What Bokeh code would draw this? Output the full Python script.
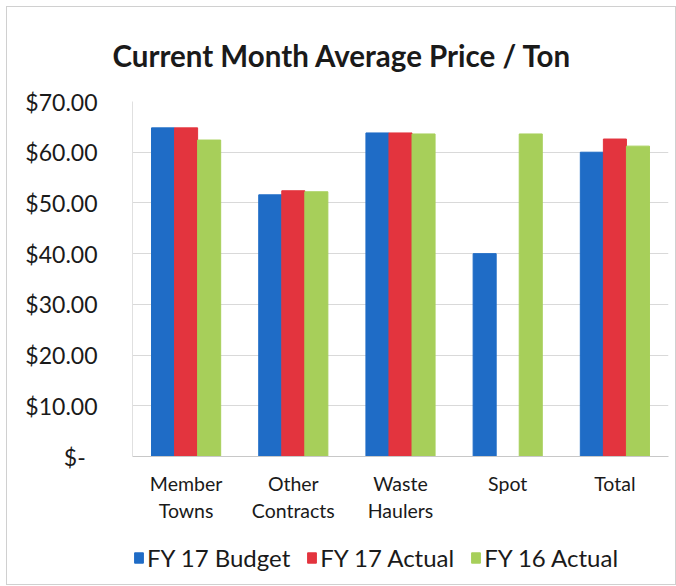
from bokeh.plotting import figure
from bokeh.layouts import column
from bokeh.models import FactorRange, FixedTicker, Legend, LegendItem, Range1d
from bokeh.transform import dodge
from bokeh.models import ColumnDataSource
from bokeh.embed import file_html
from bokeh.resources import INLINE

categories = ["Member\nTowns", "Other\nContracts", "Waste\nHaulers", "Spot", "Total"]
fy17_budget = [64.8, 51.6, 63.8, 40.0, 60.0]
fy17_actual = [64.8, 52.4, 63.8, 0.0, 62.6]
fy16_actual = [62.4, 52.2, 63.6, 63.6, 61.2]
series_names = ["FY 17 Budget", "FY 17 Actual", "FY 16 Actual"]
y_ticks = [0, 10, 20, 30, 40, 50, 60, 70]
y_tick_labels = ["$-\u00a0\u00a0", "$10.00", "$20.00", "$30.00", "$40.00", "$50.00", "$60.00", "$70.00"]

colors = ["#1f6cc6", "#e3343e", "#a7cf5a"]
FONT = "Lato"

src = ColumnDataSource(dict(cat=categories, b=fy17_budget, a=fy17_actual, p=fy16_actual))
xr = FactorRange(*categories, range_padding=0, group_padding=0)

p = figure(x_range=xr, y_range=(0, 70),
           width=668, height=523, output_backend="svg", toolbar_location=None,
           title="Current Month Average Price / Ton",
           min_border_left=125, min_border_right=7, min_border_top=94, min_border_bottom=74)

w = 0.215
r1 = p.vbar(x=dodge("cat", -w, range=xr), top="b", width=w, source=src, color=colors[0])
r2 = p.vbar(x=dodge("cat", 0, range=xr), top="a", width=w, source=src, color=colors[1])
r3 = p.vbar(x=dodge("cat", w, range=xr), top="p", width=w, source=src, color=colors[2])

p.title.text_font = FONT
p.title.text_font_size = "29.5px"
p.title.text_font_style = "bold"
p.title.align = "left"
p.title.offset = -20
p.title.text_color = "#1a1a1a"
p.title.standoff = 57

p.yaxis.ticker = FixedTicker(ticks=y_ticks)
p.yaxis.major_label_overrides = {t: l for t, l in zip(y_ticks, y_tick_labels)}
p.yaxis.major_label_text_font = FONT
p.yaxis.major_label_text_font_size = "23px"
p.yaxis.major_label_text_color = "#1a1a1a"
p.yaxis.major_label_standoff = 29
p.yaxis.major_tick_line_color = None
p.yaxis.minor_tick_line_color = None
p.yaxis.axis_line_color = "#e0e0e0"

p.xaxis.major_label_text_font = FONT
p.xaxis.major_label_text_font_size = "19.5px"
p.xaxis.major_label_text_color = "#1a1a1a"
p.xaxis.major_label_standoff = 9
p.xaxis.major_tick_line_color = None
p.xaxis.axis_line_color = "#c8c8c8"

p.xgrid.grid_line_color = None
p.ygrid.grid_line_color = "#d9d9d9"
p.outline_line_color = None

# legend strip below the chart (its bars lie outside its y range, only the legend shows)
lg = figure(width=668, height=54, output_backend="svg", toolbar_location=None,
            x_axis_type=None, y_axis_type=None, min_border=0,
            x_range=xr, y_range=Range1d(1000, 1001))
lg.outline_line_color = None
lg.xgrid.grid_line_color = None
lg.ygrid.grid_line_color = None
d1 = lg.vbar(x=dodge("cat", -w, range=xr), top="b", width=w, source=src, color=colors[0])
d2 = lg.vbar(x=dodge("cat", 0, range=xr), top="a", width=w, source=src, color=colors[1])
d3 = lg.vbar(x=dodge("cat", w, range=xr), top="p", width=w, source=src, color=colors[2])

legend = Legend(items=[LegendItem(label=series_names[0], renderers=[d1]),
                       LegendItem(label=series_names[1], renderers=[d2]),
                       LegendItem(label=series_names[2], renderers=[d3])],
                orientation="horizontal", location=(1, 12),
                label_text_font=FONT, label_text_font_size="24px", label_text_color="#1a1a1a",
                glyph_width=11, glyph_height=13, spacing=16, label_standoff=3, padding=0,
                border_line_color=None, background_fill_alpha=0, margin=0)
lg.add_layout(legend, "center")

layout = column(p, lg, spacing=0)
layout.styles = {"border": "1px solid #d0d0d0", "margin": "6px 0 0 6px"}

open("out.html", "w").write(file_html(layout, INLINE))
